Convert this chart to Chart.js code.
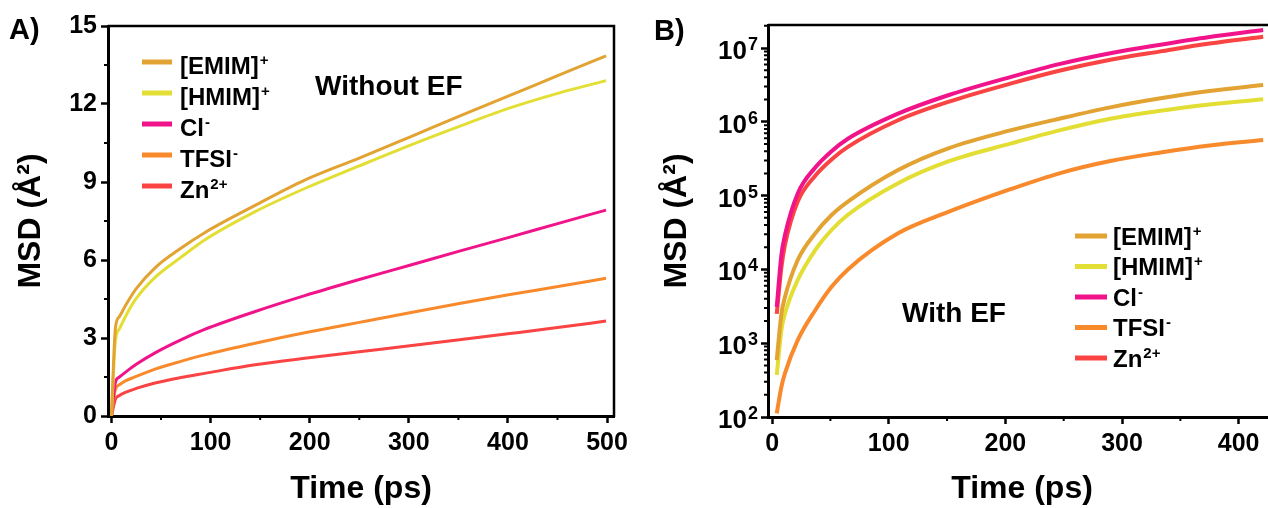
<!DOCTYPE html>
<html>
<head>
<meta charset="utf-8">
<title>MSD of ions with and without electric field</title>
<script src="https://cdn.jsdelivr.net/npm/chart.js@4.4.1/dist/chart.umd.min.js"></script>
<style>
  html, body { margin: 0; padding: 0; background: #fff; }
  #fig { position: relative; width: 1268px; height: 508px; overflow: hidden; background: #fff; }
  #panelA { position: absolute; left: 0; top: 0; }
  #panelB { position: absolute; left: 634px; top: 0; }
</style>
</head>
<body>
<div id="fig">
  <canvas id="panelA" width="640" height="508"></canvas>
  <canvas id="panelB" width="660" height="508"></canvas>
</div>
<script>
// ---- species ----
const ions = ['[EMIM]', '[HMIM]', 'Cl', 'TFSI', 'Zn'];
const charges = ['+', '+', '-', '-', '2+'];
const ionColors = ['#E2A332', '#E3DE33', '#F01389', '#F88A2C', '#FA4343'];

// ---- panel A: without electric field (MSD in Å², time in ps) ----
const timeA = [0, 4, 8, 14, 25, 44, 70, 94, 145, 195, 250, 301, 351, 402, 452, 499];
const emimA = [0, 3.4, 3.82, 4.24, 4.9, 5.7, 6.45, 7.05, 8.1, 9.07, 9.92, 10.73, 11.53, 12.33, 13.12, 13.85];
const hmimA = [0, 2.9, 3.35, 3.82, 4.52, 5.33, 6.1, 6.77, 7.86, 8.75, 9.62, 10.41, 11.14, 11.85, 12.43, 12.9];
const clA   = [0, 1.3, 1.5, 1.68, 1.99, 2.43, 2.93, 3.33, 4.02, 4.63, 5.25, 5.8, 6.34, 6.88, 7.42, 7.92];
const tfsiA = [0, 1.03, 1.2, 1.35, 1.52, 1.8, 2.1, 2.35, 2.8, 3.2, 3.6, 3.97, 4.33, 4.67, 4.99, 5.3];
const znA   = [0, 0.65, 0.79, 0.91, 1.06, 1.27, 1.48, 1.64, 1.97, 2.22, 2.47, 2.7, 2.93, 3.17, 3.41, 3.65];

// ---- panel B: with electric field ----
const timeB = [4, 8, 11, 22, 37, 51, 65, 108, 151, 205, 247, 290, 333, 375, 421];
const emimB = [590, 2.5e3, 4.2e3, 1.34e4, 3.08e4, 5.46e4, 8.3e4, 2.22e5, 4.37e5, 7.7e5, 1.11e6, 1.57e6, 2.08e6, 2.61e6, 3.15e6];
const hmimB = [370, 1.51e3, 2.5e3, 7.2e3, 1.83e4, 3.42e4, 5.5e4, 1.47e5, 2.9e5, 5.1e5, 7.7e5, 1.1e6, 1.41e6, 1.72e6, 2.02e6];
const clB   = [3.1e3, 1.58e4, 2.9e4, 1.07e5, 2.4e5, 4.0e5, 5.9e5, 1.29e6, 2.29e6, 4.07e6, 6.1e6, 8.5e6, 1.11e7, 1.41e7, 1.75e7];
const tfsiB = [112, 257, 391, 1.1e3, 2.8e3, 5.8e3, 1.0e4, 3.08e4, 6.0e4, 1.23e5, 2.02e5, 2.94e5, 3.84e5, 4.78e5, 5.66e5];
const znB   = [2.5e3, 1.07e4, 2.14e4, 8.3e4, 1.86e5, 3.09e5, 4.57e5, 1.05e6, 1.86e6, 3.31e6, 4.95e6, 6.92e6, 9.0e6, 1.15e7, 1.42e7];

// ---- axis ticks ----
const xTicksA = [0, 100, 200, 300, 400, 500];
const yTicksA = [0, 3, 6, 9, 12, 15];
const xTicksB = [0, 100, 200, 300, 400];
const yPowersB = [2, 3, 4, 5, 6, 7];

const FONT = '"Liberation Sans", Arial, Helvetica, sans-serif';
Chart.defaults.font.family = FONT;
Chart.defaults.font.weight = 'bold';
Chart.defaults.color = '#000';

function toPoints(xs, ys) { return xs.map((x, i) => ({ x: x, y: ys[i] })); }

function makeDatasets(times, series, width) {
  return series.map((vals, i) => ({
    label: ions[i] + charges[i],
    data: toPoints(times, vals),
    borderColor: ionColors[i],
    backgroundColor: ionColors[i],
    borderWidth: width,
    pointRadius: 0,
    fill: false,
    cubicInterpolationMode: 'monotone'
  }));
}

// midpoints between consecutive major ticks
function midpoints(arr) {
  const out = [];
  for (let i = 0; i < arr.length - 1; i++) out.push((arr[i] + arr[i + 1]) / 2);
  return out;
}

function drawIonLabel(ctx, x, yCap, name, charge, size) {
  ctx.textAlign = 'left';
  ctx.textBaseline = 'alphabetic';
  ctx.font = 'bold ' + size + 'px ' + FONT;
  const base = yCap + 0.358 * size;
  ctx.fillText(name, x, base);
  const w = ctx.measureText(name).width;
  ctx.font = 'bold ' + Math.round(size * 0.62) + 'px ' + FONT;
  ctx.fillText(charge, x + w + 1, base - size * 0.36);
}

// frame, minor ticks, legend and in-plot annotations
const decorations = {
  id: 'decorations',
  afterDraw(chart, args, o) {
    const ctx = chart.ctx, a = chart.chartArea;
    const xs = chart.scales.x, ys = chart.scales.y;
    ctx.save();
    ctx.strokeStyle = '#000';
    ctx.lineCap = 'butt';

    // top (and right) edges of the frame
    ctx.lineWidth = o.frameWidth;
    ctx.beginPath();
    ctx.moveTo(a.left, a.top);
    ctx.lineTo(a.right + (o.rightEdge ? 0 : 40), a.top);
    if (o.rightEdge) ctx.lineTo(a.right, a.bottom + 1);
    ctx.stroke();

    // minor ticks
    ctx.lineWidth = 2;
    ctx.beginPath();
    o.minorX.forEach(v => {
      const px = xs.getPixelForValue(v);
      ctx.moveTo(px, a.bottom); ctx.lineTo(px, a.bottom + o.minorLen);
    });
    o.minorY.forEach(v => {
      if (v < ys.min || v > ys.max) return;
      const py = ys.getPixelForValue(v);
      ctx.moveTo(a.left, py); ctx.lineTo(a.left - o.minorLen, py);
    });
    ctx.stroke();

    // power-of-ten labels on a log axis
    if (o.powers) {
      ctx.fillStyle = '#000';
      o.powers.forEach(p => {
        const py = ys.getPixelForValue(Math.pow(10, p));
        const right = a.left - 10;
        ctx.font = 'bold 18px ' + FONT;
        ctx.textAlign = 'right';
        ctx.textBaseline = 'alphabetic';
        const supW = ctx.measureText(String(p)).width;
        ctx.fillText(String(p), right, py + 2);
        ctx.font = 'bold 26px ' + FONT;
        ctx.fillText('10', right - supW - 1, py + 11);
      });
    }

    // legend
    const L = o.legend;
    chart.data.datasets.forEach((ds, i) => {
      const y = L.y + i * L.dy;
      ctx.strokeStyle = ds.borderColor;
      ctx.lineWidth = 5;
      ctx.beginPath();
      ctx.moveTo(L.x0, y); ctx.lineTo(L.x1, y);
      ctx.stroke();
      ctx.fillStyle = '#000';
      drawIonLabel(ctx, L.tx, y + L.textDy, ions[i], charges[i], L.size);
    });

    // condition label and panel letter
    ctx.fillStyle = '#000';
    ctx.textAlign = 'left';
    ctx.textBaseline = 'alphabetic';
    ctx.font = 'bold 28px ' + FONT;
    ctx.fillText(o.note.text, o.note.x, o.note.y);
    ctx.font = 'bold 29px ' + FONT;
    ctx.fillText(o.panel.text, o.panel.x, o.panel.y);
    ctx.restore();
  }
};

function axisCommon() {
  return {
    grid: { display: true, drawOnChartArea: false, drawTicks: true, tickLength: 7, tickWidth: 2.5, tickColor: '#000' },
    border: { display: true, width: 3, color: '#000' }
  };
}

// ---- panel A ----
new Chart(document.getElementById('panelA'), {
  type: 'line',
  data: { datasets: makeDatasets(timeA, [emimA, hmimA, clA, tfsiA, znA], 3) },
  options: {
    responsive: false,
    animation: false,
    events: [],
    layout: { padding: { left: 0, top: 26, right: 26, bottom: 0 } },
    plugins: {
      legend: { display: false },
      tooltip: { enabled: false },
      decorations: {
        frameWidth: 2.5,
        rightEdge: true,
        minorLen: 4,
        minorX: midpoints(xTicksA),
        minorY: midpoints(yTicksA),
        legend: { x0: 142, x1: 172, tx: 180, y: 62, dy: 31, textDy: 3, size: 24 },
        note: { text: 'Without EF', x: 315, y: 95 },
        panel: { text: 'A)', x: 9, y: 39 }
      }
    },
    scales: {
      x: Object.assign(axisCommon(), {
        type: 'linear', min: -3.5, max: 507,
        afterBuildTicks: s => { s.ticks = xTicksA.map(v => ({ value: v })); },
        afterFit: s => { s.height = 92; },
        ticks: { color: '#000', font: { size: 25, weight: 'bold' }, padding: 5, maxRotation: 0, autoSkip: false, includeBounds: false },
        title: { display: true, text: 'Time (ps)', color: '#000', font: { size: 32, weight: 'bold' }, padding: { top: 0, bottom: 0 } }
      }),
      y: Object.assign(axisCommon(), {
        type: 'linear', min: 0, max: 15,
        afterBuildTicks: s => { s.ticks = yTicksA.map(v => ({ value: v })); },
        afterFit: s => { s.width = 108; },
        ticks: { color: '#000', font: { size: 25, weight: 'bold' }, padding: 4, autoSkip: false, includeBounds: false },
        title: { display: true, text: 'MSD (Å²)', color: '#000', font: { size: 32, weight: 'bold' }, padding: { top: 12, bottom: 0 } }
      })
    }
  },
  plugins: [decorations]
});

// ---- panel B ----
const minorLogB = [];
yPowersB.forEach(p => { for (let m = 2; m <= 9; m++) minorLogB.push(m * Math.pow(10, p)); });

new Chart(document.getElementById('panelB'), {
  type: 'line',
  data: { datasets: makeDatasets(timeB, [emimB, hmimB, clB, tfsiB, znB], 4) },
  options: {
    responsive: false,
    animation: false,
    events: [],
    layout: { padding: { left: 0, top: 25, right: 18, bottom: 0 } },
    plugins: {
      legend: { display: false },
      tooltip: { enabled: false },
      decorations: {
        frameWidth: 2.5,
        rightEdge: false,
        minorLen: 4,
        minorX: midpoints(xTicksB),
        minorY: minorLogB,
        powers: yPowersB,
        legend: { x0: 441, x1: 473, tx: 479, y: 236, dy: 30.5, textDy: 0, size: 24 },
        note: { text: 'With EF', x: 268, y: 322 },
        panel: { text: 'B)', x: 20, y: 40 }
      }
    },
    scales: {
      x: Object.assign(axisCommon(), {
        type: 'linear', min: -3.5, max: 432,
        afterBuildTicks: s => { s.ticks = xTicksB.map(v => ({ value: v })); },
        afterFit: s => { s.height = 91; },
        ticks: { color: '#000', font: { size: 25, weight: 'bold' }, padding: 5, maxRotation: 0, autoSkip: false, includeBounds: false },
        title: { display: true, text: 'Time (ps)', color: '#000', font: { size: 32, weight: 'bold' }, padding: { top: 0, bottom: 0 } }
      }),
      y: Object.assign(axisCommon(), {
        type: 'logarithmic', min: 100, max: 2.05e7,
        afterBuildTicks: s => { s.ticks = yPowersB.map(p => ({ value: Math.pow(10, p) })); },
        afterFit: s => { s.width = 134; },
        ticks: { color: '#000', font: { size: 25, weight: 'bold' }, padding: 4, autoSkip: false, callback: () => '' },
        title: { display: true, text: 'MSD (Å²)', color: '#000', font: { size: 32, weight: 'bold' }, padding: { top: 24, bottom: 0 } }
      })
    }
  },
  plugins: [decorations]
});
</script>
</body>
</html>
